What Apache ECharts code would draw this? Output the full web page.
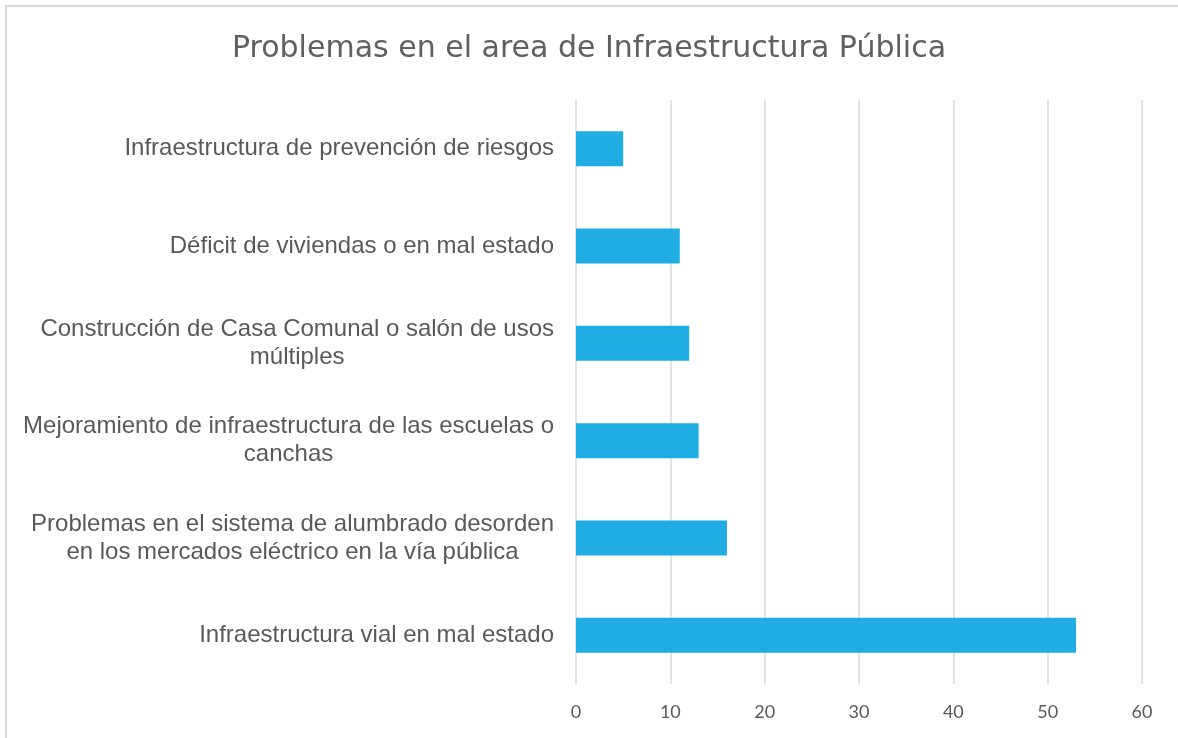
<!DOCTYPE html>
<html>
<head>
<meta charset="utf-8">
<script src="https://cdn.jsdelivr.net/npm/echarts@6/dist/echarts.min.js"></script>
<style>
  html, body { margin: 0; padding: 0; background: #fff; }
  .frame {
    position: absolute; left: 5px; top: 5px; width: 1200px; height: 760px;
    border-top: 2px solid #d9d9d9; border-left: 2px solid #d9d9d9;
  }
  #chart { position: absolute; left: 0; top: 0; width: 1178px; height: 738px; }
</style>
</head>
<body>
<div class="frame"></div>
<div id="chart"></div>
<script>
// categories bottom -> top (as the axis draws them)
const categories = [
  'Infraestructura vial en mal estado',
  'Problemas en el sistema de alumbrado desorden\nen los mercados eléctrico en la vía pública',
  'Mejoramiento de infraestructura de las escuelas o\ncanchas',
  'Construcción de Casa Comunal o salón de usos\nmúltiples',
  'Déficit de viviendas o en mal estado',
  'Infraestructura de prevención de riesgos'
]
const values = [53, 16, 13, 12, 11, 5]
const xTicks = [0, 10, 20, 30, 40, 50, 60]

const textColor = '#595959'
const chart = echarts.init(document.getElementById('chart'))

chart.setOption({
  animation: false,
  title: {
    text: 'Problemas en el area de Infraestructura Pública',
    left: 'center',
    top: 29,
    textStyle: {
      fontFamily: 'DejaVu Sans',
      fontWeight: 'normal',
      fontSize: 30,
      color: '#606060'
    }
  },
  grid: {
    left: 576,
    right: 36,
    top: 100,
    bottom: 54
  },
  xAxis: {
    type: 'value',
    min: xTicks[0],
    max: xTicks[xTicks.length - 1],
    interval: 10,
    axisLine: { show: false },
    axisTick: { show: false },
    splitLine: { lineStyle: { color: '#d9d9d9', width: 1.5 } },
    axisLabel: {
      margin: 19,
      fontFamily: 'Lato',
      fontSize: 18,
      color: textColor
    }
  },
  yAxis: {
    type: 'category',
    data: categories,
    axisLine: { show: false },
    axisTick: { show: false },
    axisLabel: {
      margin: 22,
      fontFamily: 'Liberation Sans',
      fontSize: 24,
      color: textColor,
      lineHeight: 28,
      formatter: function (v) {
        return v.split('\n').map(function (l) { return '{c|' + l + '}' }).join('\n')
      },
      rich: {
        c: {
          align: 'center',
          fontFamily: 'Liberation Sans',
          fontSize: 24,
          color: textColor,
          lineHeight: 28
        }
      }
    }
  },
  series: [
    {
      type: 'bar',
      data: values,
      barWidth: 35,
      itemStyle: { color: '#1FADE4' }
    }
  ]
})
</script>
</body>
</html>
